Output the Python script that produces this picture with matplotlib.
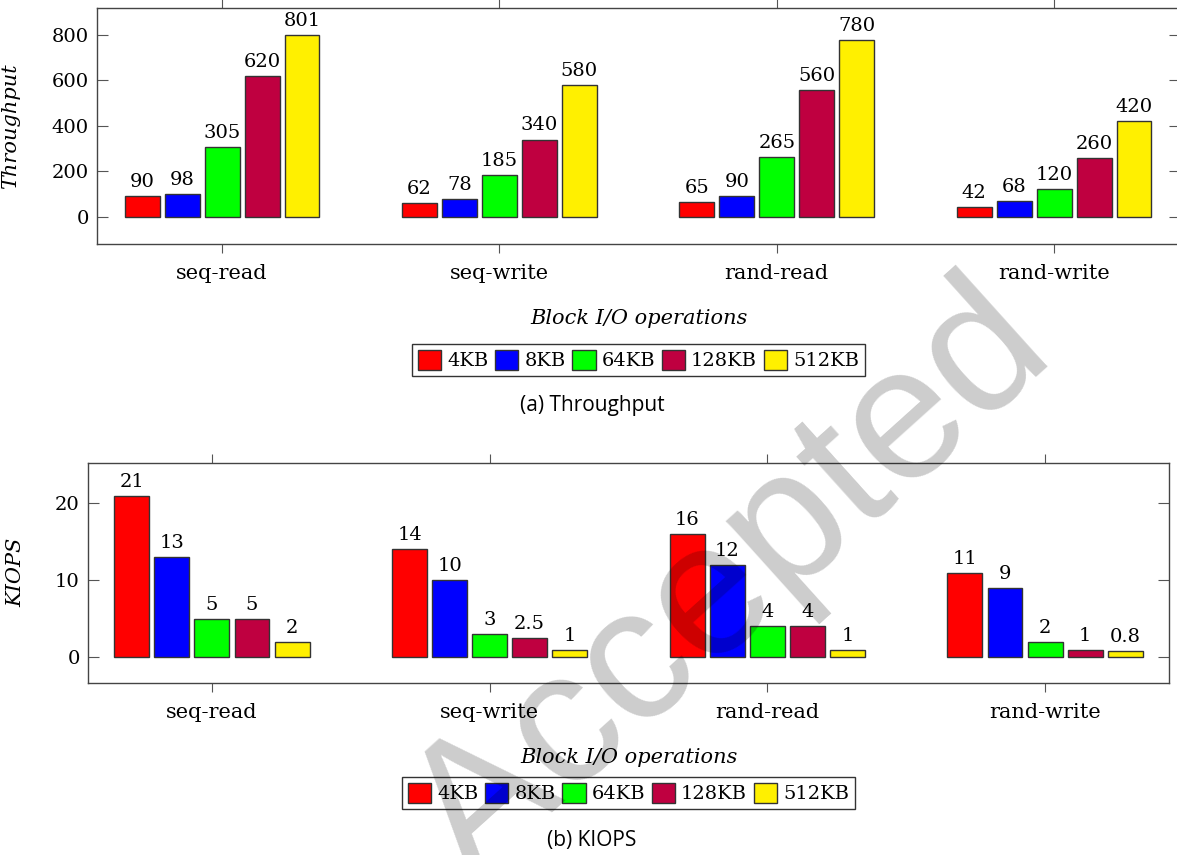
import numpy as np
import matplotlib.pyplot as plt
from matplotlib.patches import Patch

plt.rcParams['font.family'] = ['DejaVu Serif']

ops = ['seq-read', 'seq-write', 'rand-read', 'rand-write']
sizes = ['4KB', '8KB', '64KB', '128KB', '512KB']
colors = ['#ff0000', '#0000ff', '#00ff00', '#bf0040', '#fff000']

throughput = [
    [90, 62, 65, 42],      # 4KB
    [98, 78, 90, 68],      # 8KB
    [305, 185, 265, 120],  # 64KB
    [620, 340, 560, 260],  # 128KB
    [801, 580, 780, 420],  # 512KB
]
kiops = [
    [21, 14, 16, 11],
    [13, 10, 12, 9],
    [5, 3, 4, 2],
    [5, 2.5, 4, 1],
    [2, 1, 1, 0.8],
]
kiops_labels = [
    ['21', '14', '16', '11'],
    ['13', '10', '12', '9'],
    ['5', '3', '4', '2'],
    ['5', '2.5', '4', '1'],
    ['2', '1', '1', '0.8'],
]

FS = 14      # numbers, legend
FS_LAB = 15  # category names, axis titles
W = 1177
H = 855


def draw(ax, data, labels, ylabel, yticks, ylim, xlim):
    x = np.arange(len(ops))
    step = 0.1441
    width = 0.126
    for i, vals in enumerate(data):
        pos = x + (i - 2) * step
        ax.bar(pos, vals, width, color=colors[i], edgecolor='#333333', linewidth=1.0, zorder=2)
        for px, v, t in zip(pos, vals, labels[i]):
            ax.annotate(t, (px, v), xytext=(0, 6.5), textcoords='offset points',
                        ha='center', va='baseline', fontsize=FS)
    ax.set_xlim(*xlim)
    ax.set_ylim(*ylim)
    ax.set_xticks(x)
    ax.set_xticklabels(ops, fontsize=FS_LAB)
    ax.set_yticks(yticks)
    ax.set_yticklabels([str(t) for t in yticks], fontsize=FS)
    ax.tick_params(axis='x', direction='out', top=True, bottom=True, length=6.5,
                   width=0.8, color='#555555', pad=8)
    ax.tick_params(axis='y', direction='in', left=True, right=True, length=8,
                   width=0.8, color='#555555', pad=6)
    for s in ax.spines.values():
        s.set_color('#444444')
        s.set_linewidth(1.0)
    ax.set_ylabel(ylabel, fontsize=FS_LAB, style='italic')


fig = plt.figure(figsize=(W / 100, H / 100), dpi=100)

# (a) throughput
ax1 = fig.add_axes([97 / W, 1 - 244 / H, (1180 - 97) / W, (244 - 8) / H])
draw(ax1, throughput, [[str(v) for v in row] for row in throughput], 'Throughput',
     [0, 200, 400, 600, 800], (-120, 919), (-0.451, 3.454))
ax1.yaxis.set_label_coords(-(97 - 20) / (1180 - 97), 0.5)

# (b) KIOPS
ax2 = fig.add_axes([88 / W, 1 - 683 / H, (1169 - 88) / W, (683 - 462.7) / H])
draw(ax2, kiops, kiops_labels, 'KIOPS', [0, 10, 20], (-3.34, 25.27), (-0.4465, 3.4465))
ax2.yaxis.set_label_coords(-(88 - 25) / (1169 - 88), 0.5)

handles = [Patch(facecolor=c, edgecolor='#333333', linewidth=1.0) for c in colors]
for xl_x, xl_y, lg_y, cap_y, cap in [(638.5, 318, 360, 405, '(a) Throughput'),
                                      (628.5, 757, 793, 840, '(b) KIOPS')]:
    fig.text(xl_x / W, 1 - xl_y / H, 'Block I/O operations', fontsize=FS_LAB, style='italic',
             ha='center', va='center')
    leg = fig.legend(handles, sizes, loc='center', bbox_to_anchor=(xl_x / W, 1 - lg_y / H),
                     ncol=5, fontsize=FS, frameon=True, fancybox=False, edgecolor='black',
                     handlelength=1.2, handleheight=1.2, handletextpad=0.3,
                     columnspacing=0.35, borderpad=0.3, borderaxespad=0)
    leg.get_frame().set_linewidth(1.0)
    fig.text(592 / W, 1 - cap_y / H, cap, fontsize=15, family=['Open Sans', 'DejaVu Sans'],
             ha='center', va='center')

# watermark
fig.text(732 / W, 1 - 584 / H, 'Accepted', fontsize=136, family=['Liberation Sans', 'DejaVu Sans'],
         color='black', alpha=0.2, rotation=42, ha='center', va='center', zorder=10)

fig.savefig('out.png', dpi=100)
